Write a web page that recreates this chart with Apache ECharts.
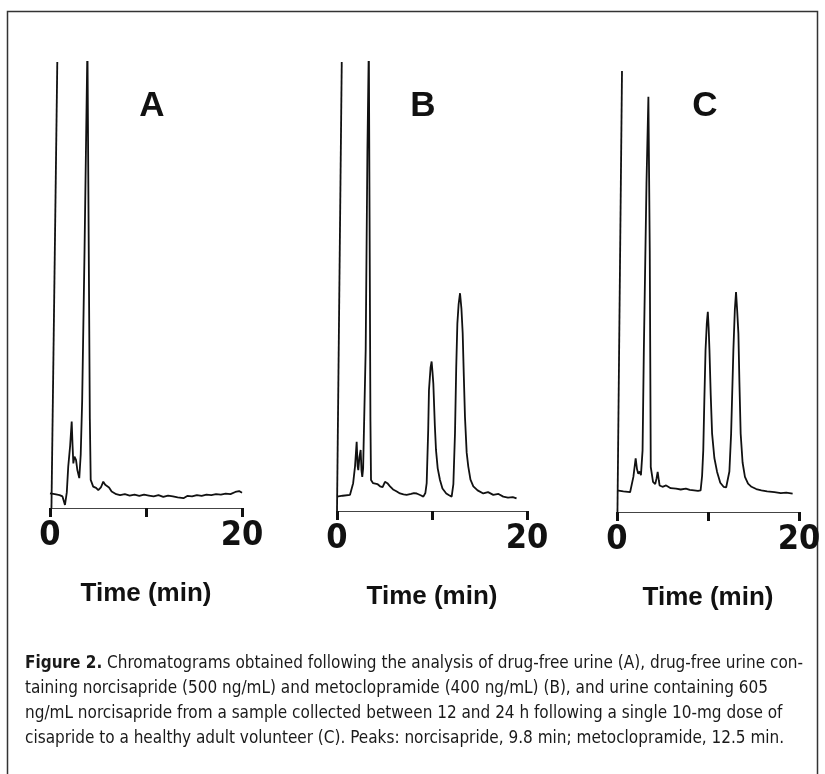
<!DOCTYPE html>
<html>
<head>
<meta charset="utf-8">
<script src="https://cdn.jsdelivr.net/npm/echarts@6/dist/echarts.min.js"></script>
<style>
  html, body { margin: 0; padding: 0; background: #fff; }
  #main { width: 825px; height: 774px; }
</style>
</head>
<body>
<div id="main"></div>
<script>
// chromatogram traces (time in min, detector response in arbitrary units, 100 = top of trace area)
var timesA = [0, 0.5, 1.0, 1.3, 1.56, 1.75, 1.9, 2.1, 2.26, 2.35, 2.43, 2.55, 2.71, 2.85, 3.05, 3.2, 3.35, 3.6, 3.9, 4.05, 4.15, 4.24, 4.5, 4.8, 5.03, 5.3, 5.55, 5.75, 5.9, 6.15, 6.42, 6.9, 7.3, 7.8, 8.3, 8.8, 9.3, 9.8, 10.3, 10.8, 11.3, 11.8, 12.3, 12.8, 13.3, 13.9, 14.3, 14.8, 15.3, 15.8, 16.3, 16.8, 17.3, 17.8, 18.3, 18.8, 19.3, 19.7, 20];
var signalA = [3.3, 3.1, 2.9, 2.6, 0.7, 3.5, 9.3, 14, 19.4, 14, 10.0, 11.5, 10.8, 8.5, 6.7, 12, 24, 58, 104, 104, 20, 6.3, 4.8, 4.5, 4.0, 4.6, 5.9, 5.2, 5.6, 4.6, 3.7, 3.1, 2.9, 3.1, 2.8, 3.0, 2.7, 3.0, 2.8, 2.6, 2.9, 2.5, 2.8, 2.6, 2.4, 2.2, 2.7, 2.6, 2.9, 2.7, 3.0, 2.9, 3.1, 3.0, 3.2, 3.1, 3.6, 3.8, 3.4];

var timesB = [0, 0.6, 1.37, 1.7, 1.9, 2.07, 2.17, 2.24, 2.36, 2.49, 2.58, 2.66, 2.75, 2.84, 3.02, 3.2, 3.35, 3.45, 3.52, 3.58, 3.8, 4.0, 4.25, 4.53, 4.8, 5.05, 5.3, 5.58, 5.9, 6.25, 6.63, 7.0, 7.33, 7.8, 8.1, 8.39, 8.8, 9.09, 9.3, 9.44, 9.6, 9.68, 9.85, 9.96, 10.05, 10.14, 10.3, 10.42, 10.6, 10.84, 11.1, 11.5, 11.8, 12.07, 12.25, 12.42, 12.55, 12.67, 12.8, 12.95, 13.1, 13.23, 13.35, 13.47, 13.65, 13.82, 14.05, 14.35, 14.8, 15.4, 15.9, 16.45, 17.0, 17.5, 18.0, 18.5, 18.9];
var signalB = [3.2, 3.4, 3.6, 6.2, 10, 15.4, 10, 9.1, 12, 13.6, 9, 7.6, 9.5, 9.1, 35.9, 80, 104, 104, 20, 6.9, 6.2, 5.8, 6.0, 5.5, 5.3, 6.5, 6.2, 5.5, 4.8, 4.4, 3.9, 3.7, 3.6, 3.8, 4.0, 3.9, 3.5, 3.2, 4.0, 6.2, 18, 26.9, 32, 33.3, 31, 28.4, 19, 13.6, 9.5, 6.9, 5.0, 3.9, 3.5, 3.2, 6, 17.3, 32, 41.8, 46, 48.5, 45, 39.6, 30, 21, 13, 9.9, 7, 5.5, 4.6, 3.9, 4.2, 3.6, 3.8, 3.2, 3.0, 3.1, 2.8];

var timesC = [0, 0.7, 1.44, 1.8, 2.05, 2.2, 2.34, 2.5, 2.63, 2.81, 2.95, 3.24, 3.45, 3.52, 3.6, 3.71, 3.96, 4.2, 4.35, 4.47, 4.6, 4.68, 5.0, 5.4, 5.9, 6.49, 7.0, 7.57, 8.0, 8.47, 8.9, 9.19, 9.35, 9.48, 9.6, 9.73, 9.87, 9.98, 10.07, 10.16, 10.3, 10.45, 10.7, 11.0, 11.35, 11.71, 12.0, 12.18, 12.35, 12.54, 12.79, 12.95, 13.08, 13.2, 13.34, 13.45, 13.59, 13.8, 14.06, 14.4, 14.78, 15.3, 15.86, 16.5, 17.3, 18.0, 18.6, 19.3];
var signalC = [4.8, 4.6, 4.4, 7.8, 11.9, 9.5, 8.5, 9, 8.2, 13.7, 36, 73, 92.3, 92, 58, 10, 6.7, 6.2, 7.5, 8.9, 7, 5.9, 5.6, 5.9, 5.3, 5.2, 5.0, 5.2, 4.9, 4.8, 4.7, 4.8, 8, 13.7, 25, 36, 42, 44.5, 41, 36, 26, 17.4, 12, 8.9, 6.5, 5.6, 5.5, 5.9, 9, 17.4, 36, 45, 48.9, 45, 39.7, 29, 17.4, 11, 7.8, 6.3, 5.6, 5.1, 4.8, 4.6, 4.4, 4.2, 4.3, 4.1];

// solvent front spike (runs off the top of the trace)
var frontTimes = [[0.15, 0.76], [0, 0.5], [0.05, 0.55]];
var frontSignal = [[0, 100], [0, 100], [0, 98]];

var panelNames = ['A', 'B', 'C'];
var xTicks = [0, 10, 20];

var captionLines = [
  '{b|Figure 2.} Chromatograms obtained following the analysis of drug-free urine (A), drug-free urine con-',
  'taining norcisapride (500 ng/mL) and metoclopramide (400 ng/mL) (B), and urine containing 605',
  'ng/mL norcisapride from a sample collected between 12 and 24 h following a single 10-mg dose of',
  'cisapride to a healthy adult volunteer (C). Peaks: norcisapride, 9.8 min; metoclopramide, 12.5 min.'
];

function zip(t, v) {
  return t.map(function (x, i) { return [x, v[i]]; });
}

var chart = echarts.init(document.getElementById('main'));

var grids = [
  { left: 50, top: 62, width: 192, height: 446 },
  { left: 337, top: 62, width: 190, height: 449 },
  { left: 617, top: 62, width: 182, height: 450 }
];

var traces = [zip(timesA, signalA), zip(timesB, signalB), zip(timesC, signalC)];

var xAxes = [], yAxes = [], series = [], titles = [];
var labelX = [147, 418, 700];
var sansBold = '"Liberation Sans", Arial, sans-serif';
var condensed = '"DejaVu Sans Condensed", "Liberation Sans Narrow", sans-serif';

grids.forEach(function (g, i) {
  xAxes.push({
    gridIndex: i, type: 'value', min: xTicks[0], max: xTicks[2], interval: 10,
    axisLine: { lineStyle: { color: '#444', width: 1.2 } },
    axisTick: { length: 9, lineStyle: { color: '#111', width: 3 } },
    splitLine: { show: false },
    axisLabel: {
      margin: 11, color: '#111', fontSize: 34, fontWeight: 'bold',
      fontFamily: condensed,
      formatter: function (v) { return v === 10 ? '' : String(v); }
    },
    name: 'Time (min)', nameLocation: 'middle', nameGap: 73,
    nameTextStyle: { fontSize: 26, fontWeight: 'bold', color: '#111', fontFamily: sansBold }
  });
  yAxes.push({ gridIndex: i, type: 'value', min: 0, max: 100, show: false });
  series.push({
    type: 'line', xAxisIndex: i, yAxisIndex: i, data: traces[i], showSymbol: false,
    clip: true, lineStyle: { color: '#111', width: 1.8 }, silent: true
  });
  series.push({
    type: 'line', xAxisIndex: i, yAxisIndex: i, data: zip(frontTimes[i], frontSignal[i]),
    showSymbol: false, clip: true, lineStyle: { color: '#111', width: 1.8 }, silent: true
  });
  titles.push({
    text: panelNames[i], left: labelX[i], top: 84, textAlign: 'center',
    textStyle: { fontSize: 35, fontWeight: 'bold', color: '#111', fontFamily: sansBold }
  });
});

var graphics = [{
  type: 'polyline', silent: true,
  shape: { points: [[7.5, 774], [7.5, 11.5], [817.5, 11.5], [817.5, 774]] },
  style: { stroke: '#333', lineWidth: 1.5, fill: null }
}];
captionLines.forEach(function (line, i) {
  graphics.push({
    type: 'text', left: 25, top: 655 + i * 25, silent: true,
    style: {
      text: line, fill: '#1a1a1a', fontSize: 17, fontFamily: condensed,
      rich: { b: { fontWeight: 'bold', fontSize: 17, fill: '#1a1a1a', fontFamily: condensed } }
    }
  });
});

chart.setOption({
  backgroundColor: '#fff',
  animation: false,
  title: titles,
  grid: grids,
  xAxis: xAxes,
  yAxis: yAxes,
  series: series,
  graphic: graphics
});
</script>
</body>
</html>
